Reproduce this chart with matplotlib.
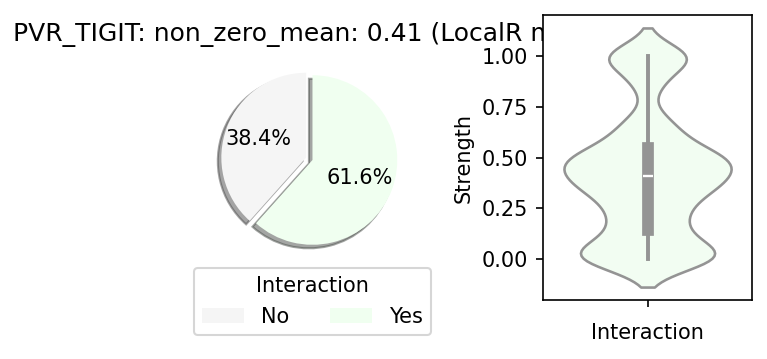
import numpy as np
import matplotlib
matplotlib.use("Agg")
import matplotlib.pyplot as plt
import seaborn as sns

# pie data
labels = ['No', 'Yes']
shares = [38.4, 61.6]
pie_colors = ['whitesmoke', 'honeydew']

# non-zero interaction strengths (value -> how many times seen)
strength_values = [0.0, 0.025, 0.05, 0.075, 0.1, 0.14, 0.15, 0.175, 0.2, 0.225, 0.25, 0.275,
                   0.3, 0.325, 0.35, 0.375, 0.41, 0.45, 0.475, 0.5, 0.525, 0.545, 0.575, 0.6,
                   0.625, 0.65, 0.675, 0.7, 0.725, 0.85, 0.875, 0.9, 0.975, 1.0]
strength_counts = [60, 6, 4, 11, 14, 6, 3, 3, 9, 12, 6, 4,
                   7, 14, 17, 14, 26, 18, 22, 20, 12, 8, 8, 5,
                   3, 9, 9, 2, 1, 2, 11, 2, 6, 40]

title = 'PVR_TIGIT: non_zero_mean: 0.41 (LocalR mean)'

strength = np.repeat(strength_values, strength_counts)

fig = plt.figure(figsize=(767 / 150, 359 / 150), dpi=150)
ax1 = fig.add_axes([0.2692, 0.2591, 0.2764, 0.5905])
ax2 = fig.add_axes([0.7080, 0.1643, 0.2725, 0.7939])

ax1.pie(shares, colors=pie_colors, autopct='%1.1f%%', startangle=90,
        shadow=True, explode=(0.08, 0))
ax1.set_title(title)
ax1.legend(labels, title='Interaction', ncol=2, loc='upper center',
           bbox_to_anchor=(0.5, 0.04))

# kde bandwidth ~0.07 in data units
sns.violinplot(y=strength, color='honeydew', ax=ax2,
               bw_method=0.07 / np.std(strength, ddof=1))
ax2.set_ylabel('Strength')
ax2.set_xlabel('Interaction')
ax2.set_xticks([0], [''])

fig.savefig('out.png', dpi=150)
